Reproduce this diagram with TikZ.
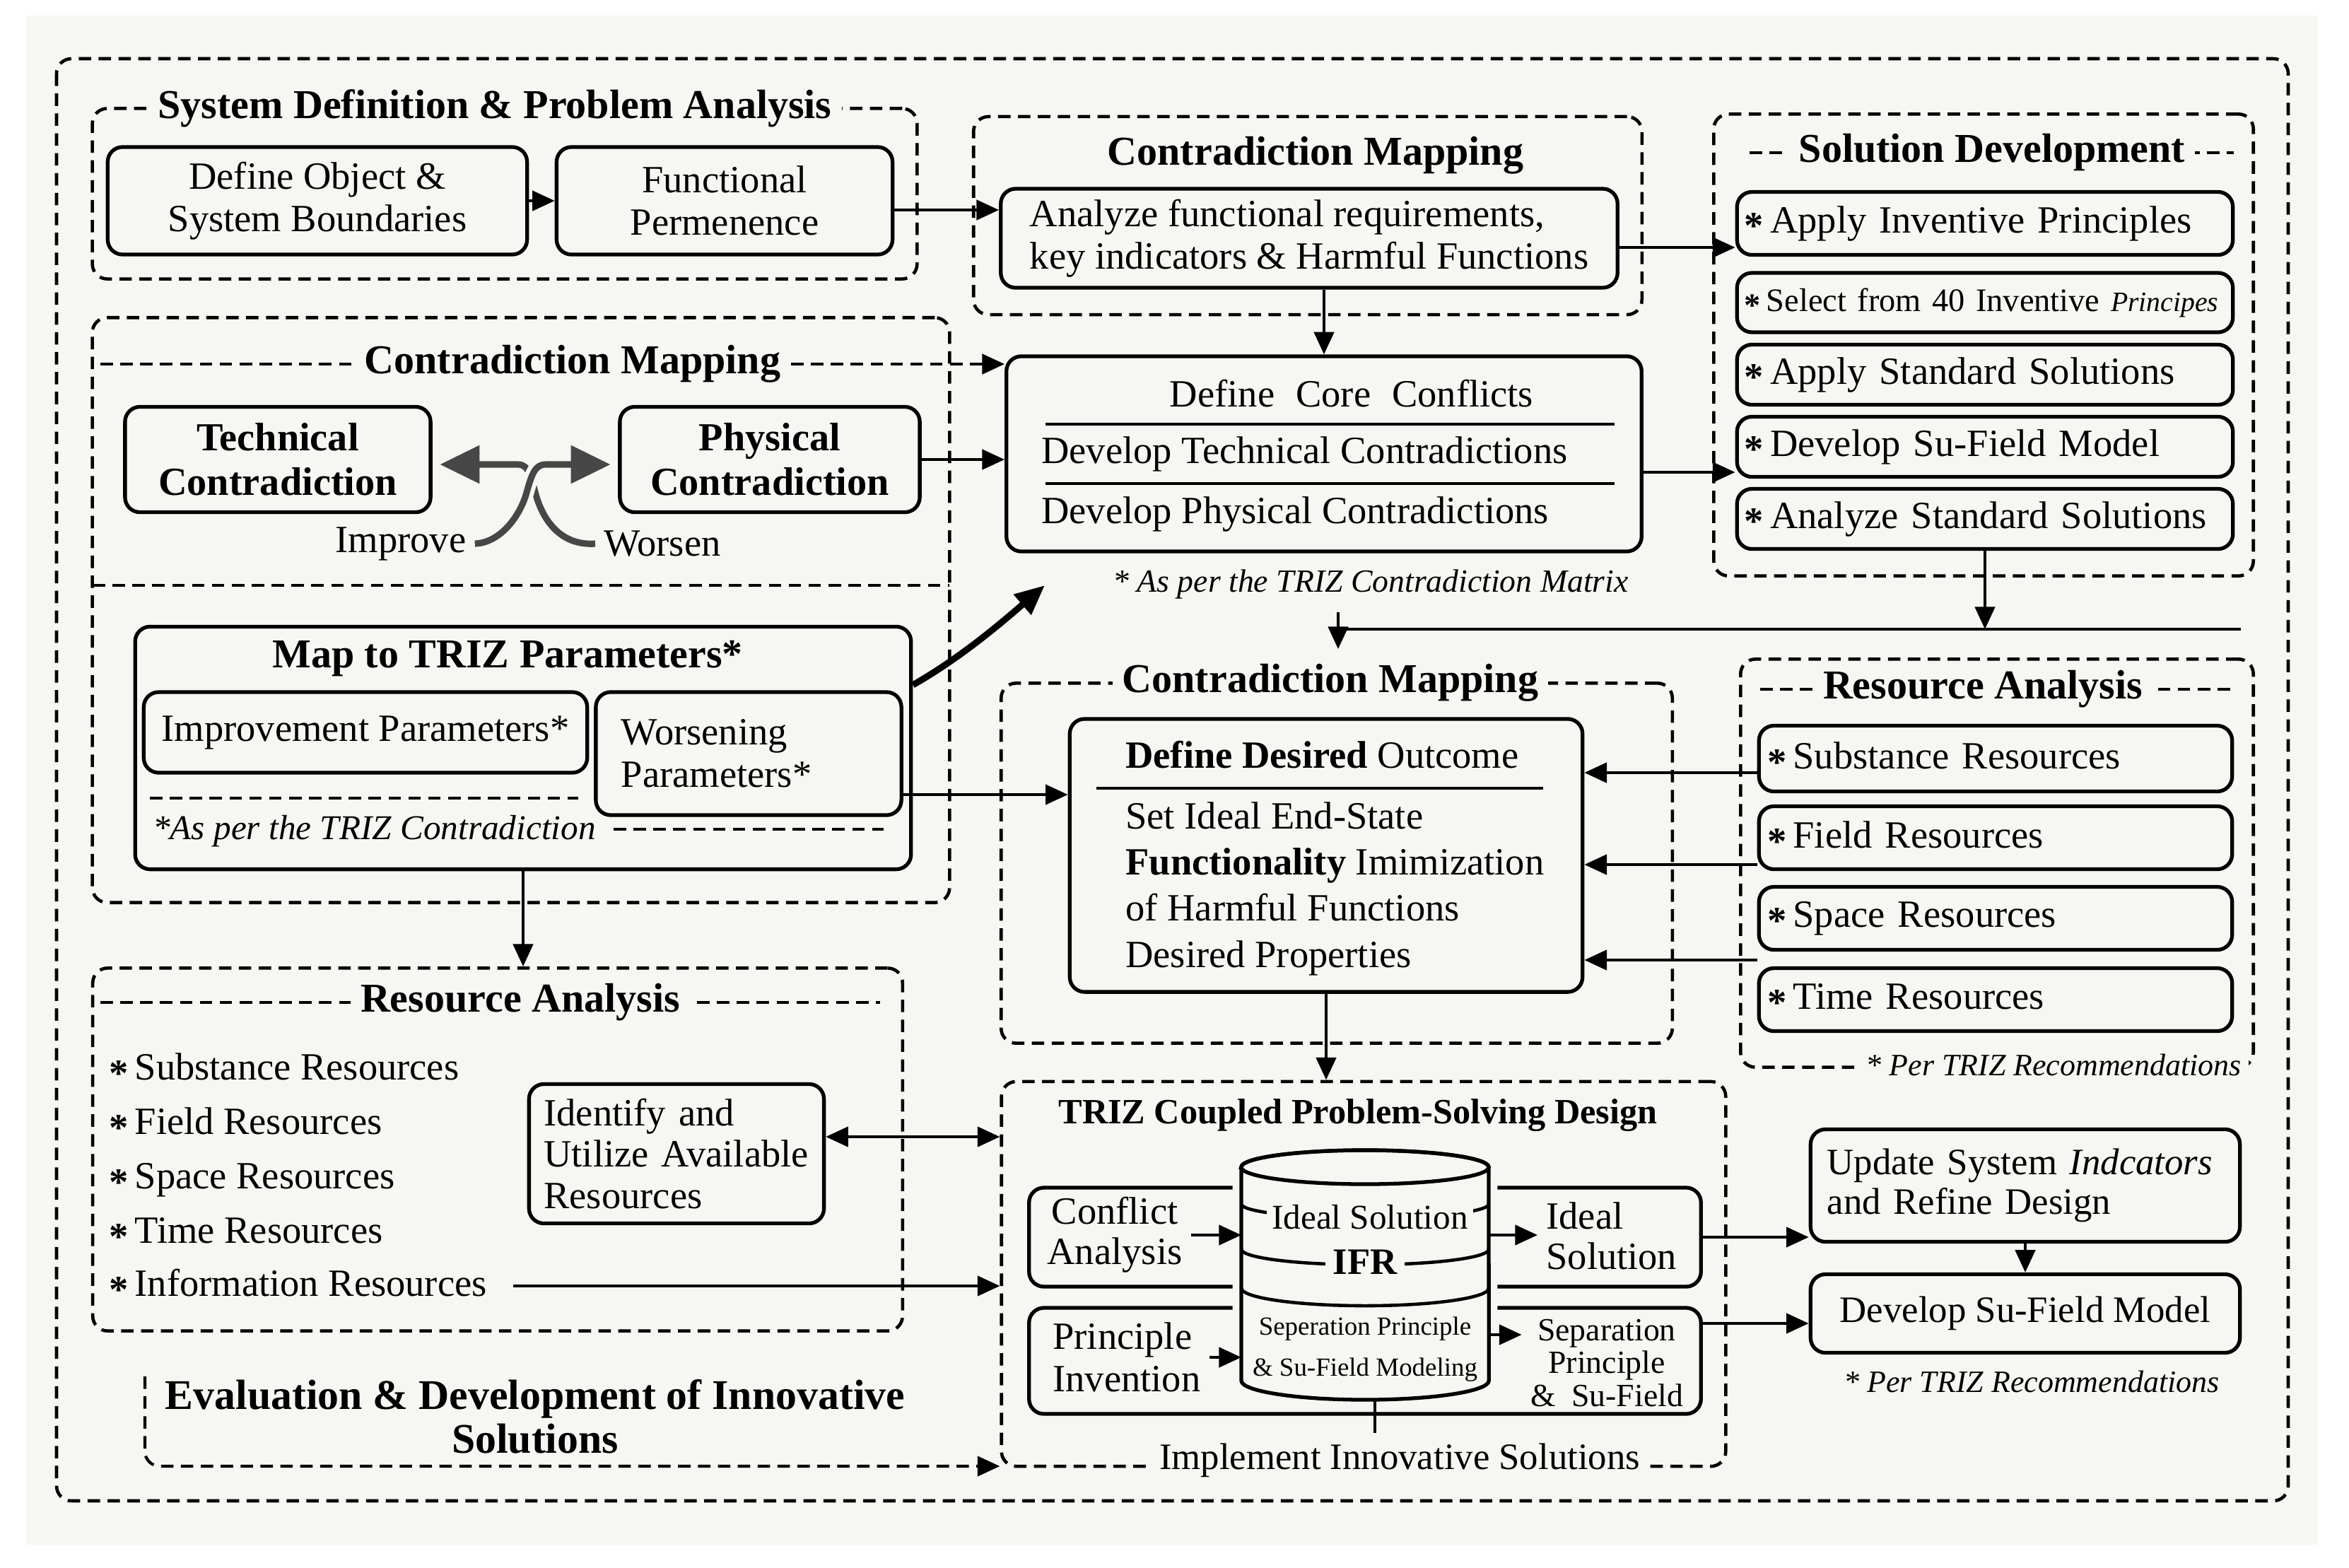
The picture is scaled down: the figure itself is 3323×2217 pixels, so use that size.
\documentclass[tikz,border=0pt]{standalone}
\usepackage{fontspec}
\setmainfont{Liberation Serif}
\usetikzlibrary{arrows.meta, positioning, calc}
\definecolor{paper}{HTML}{F6F6F3}
\definecolor{twistGray}{HTML}{474747}
\newcommand{\rstar}{\raisebox{-0.35ex}{\textbf{*}}\,}

\begin{document}
\begin{tikzpicture}[x=0.01cm, y=-0.01cm,
    font=\fontsize{15.5}{17}\selectfont,
    grp/.style={draw, line width=1.3pt, dash pattern=on 5pt off 3pt, rounded corners=6pt},
    grpline/.style={line width=1.3pt, dash pattern=on 5pt off 3pt},
    box/.style={draw, line width=1.5pt, rounded corners=6pt, fill=paper, inner sep=3pt},
    ttl/.style={font=\fontsize{16.5}{19}\selectfont\bfseries, fill=paper, inner sep=4pt},
    note/.style={font=\fontsize{13}{15}\selectfont\itshape, fill=paper, inner sep=3pt},
    arr/.style={-{Triangle[length=9pt, width=8pt]}, line width=1.2pt},
    dblarr/.style={{Triangle[length=9pt, width=8pt]}-{Triangle[length=9pt, width=8pt]}, line width=1.2pt},
    bigarr/.style={-{Triangle[length=0.42cm, width=0.36cm]}, line width=2.6pt},
    twist/.style={draw=twistGray, line width=2.6pt},
    solitem/.style={box, minimum width=6.99cm, text width=6.8cm, align=left},
    resitem/.style={box, minimum width=6.69cm, text width=6.45cm, align=left},
  ]
  \useasboundingbox (0,0) rectangle (3323,2217);
  \fill[white] (0,0) rectangle (3323,2217);
  \fill[paper] (37,22) rectangle (3279,2185);
  \draw[grp] (80,83) rectangle (3237,2123);

  \node[grp, minimum width=11.66cm, minimum height=2.41cm] (sysdef) at (714,274) {};
  \node[ttl] (sysdefT) at (700,153) {System Definition \& Problem Analysis};
  \node[box, minimum width=5.93cm, minimum height=1.52cm, align=center] (defobj) at (449,284) {Define Object \&\\System Boundaries};
  \node[box, minimum width=4.75cm, minimum height=1.52cm, align=center] (funcperm) at (1025,284) {Functional\\Permenence};

  \node[grp, minimum width=9.45cm, minimum height=2.80cm] (cmtop) at (1850,305) {};
  \node[ttl] (cmtopT) at (1861,220) {Contradiction Mapping};
  \node[box, minimum width=8.72cm, minimum height=1.40cm, align=left] (analyze) at (1852,337) {Analyze functional requirements,\\key indicators \& Harmful Functions};

  \node[grp, minimum width=7.63cm, minimum height=6.53cm] (soldev) at (2806,488) {};
  \draw[grpline] (2475,216) -- (3160,216);
  \node[ttl] (soldevT) at (2818,216) {Solution Development};
  \node[solitem, minimum height=0.89cm] (sol1) at (2808,316) {\rstar Apply Inventive Principles};
  \node[solitem, minimum height=0.84cm, font=\fontsize{13.2}{15}\selectfont] (sol2) at (2808,428) {\rstar Select from 40 Inventive \textit{\fontsize{11.3}{13}\selectfont Principes}};
  \node[solitem, minimum height=0.85cm] (sol3) at (2808,530) {\rstar Apply Standard Solutions};
  \node[solitem, minimum height=0.85cm] (sol4) at (2808,632) {\rstar Develop Su-Field Model};
  \node[solitem, minimum height=0.85cm] (sol5) at (2808,734) {\rstar Analyze Standard Solutions};

  \node[grp, minimum width=12.12cm, minimum height=8.27cm] (cmleft) at (737,863) {};
  \node[ttl, fill=none] (cmleftT) at (810,515) {Contradiction Mapping};
  \draw[grpline] (131,828) -- (1343,828);
  \node[box, font=\fontsize{16}{18}\selectfont\bfseries, minimum width=4.32cm, minimum height=1.49cm, align=center] (techc) at (393,650) {Technical\\Contradiction};
  \node[box, font=\fontsize{16}{18}\selectfont\bfseries, minimum width=4.24cm, minimum height=1.49cm, align=center] (physc) at (1089,650) {Physical\\Contradiction};
  \node (improveL) at (567,769) {Improve};
  \node (worsenL) at (937,769) {Worsen};
  \node[box, minimum width=10.97cm, minimum height=3.43cm] (maptriz) at (740,1058) {};
  \node[font=\fontsize{16.5}{19}\selectfont\bfseries] (maptrizT) at (718,932) {Map to TRIZ Parameters*};
  \node[box, minimum width=6.27cm, minimum height=1.14cm] (impr) at (517,1036) {Improvement Parameters*};
  \node[box, minimum width=4.32cm, minimum height=1.74cm, text width=3.6cm, align=left] (worse) at (1059,1066) {Worsening\\Parameters*};
  \draw[grpline] (212,1129) -- (818,1129);
  \node[note, font=\fontsize{14}{16}\selectfont\itshape, anchor=west, fill=none] (maptrizN) at (205,1176) {*As per the TRIZ Contradiction};
  \draw[grpline] (868,1173) -- (1250,1173);

  \node[box, minimum width=8.98cm, minimum height=2.76cm] (core) at (1873,642) {};
  \node (coreA) at (1912,557) {Define\hspace{0.3em} Core\hspace{0.3em} Conflicts};
  \draw[line width=1.3pt] (1479,600) -- (2284,600);
  \node[anchor=west] (coreB) at (1461,642) {Develop Technical Contradictions};
  \draw[line width=1.3pt] (1479,684) -- (2284,684);
  \node[anchor=west] (coreC) at (1461,727) {Develop Physical Contradictions};
  \node[note] (coreN) at (1939,826) {* As per the TRIZ Contradiction Matrix};

  \node[grp, minimum width=9.49cm, minimum height=5.09cm] (cmmid) at (1891,1221) {};
  \node[ttl] (cmmidT) at (1882,966) {Contradiction Mapping};
  \node[box, minimum width=7.25cm, minimum height=3.86cm] (desired) at (1876,1210) {};
  \node[anchor=west] (desA) at (1580,1068) {\textbf{Define Desired} Outcome};
  \draw[line width=1.3pt] (1551,1115) -- (2183,1115);
  \node[anchor=west, align=left, font=\fontsize{15.5}{18.6}\selectfont] (desB) at (1580,1257) {Set Ideal End-State\\\textbf{Functionality} Imimization\\of Harmful Functions\\Desired Properties};

  \node[grp, minimum width=7.25cm, minimum height=5.77cm] (resright) at (2825,1221) {};
  \draw[grpline] (2490,975) -- (3165,975);
  \node[ttl] (resrightT) at (2805,975) {Resource Analysis};
  \node[resitem, minimum height=0.93cm] (rsub) at (2823,1073) {\rstar Substance Resources};
  \node[resitem, minimum height=0.89cm] (rfield) at (2823,1185) {\rstar Field Resources};
  \node[resitem, minimum height=0.89cm] (rspace) at (2823,1299) {\rstar Space Resources};
  \node[resitem, minimum height=0.89cm] (rtime) at (2823,1414) {\rstar Time Resources};
  \node[note, font=\fontsize{12.5}{14}\selectfont\itshape, anchor=east] (resrightN) at (3182,1506) {* Per TRIZ Recommendations};

  \node[grp, minimum width=11.45cm, minimum height=5.13cm] (resleft) at (704,1626) {};
  \draw[grpline] (142,1418) -- (1245,1418);
  \node[ttl] (resleftT) at (736,1418) {Resource Analysis};
  \node[anchor=west] (lsub) at (142,1513) {\rstar Substance Resources};
  \node[anchor=west] (lfield) at (142,1590) {\rstar Field Resources};
  \node[anchor=west] (lspace) at (142,1669) {\rstar Space Resources};
  \node[anchor=west] (ltime) at (142,1745) {\rstar Time Resources};
  \node[anchor=west] (linfo) at (142,1819) {\rstar Information Resources};
  \node[box, minimum width=4.17cm, minimum height=1.97cm, text width=3.75cm, align=left, font=\fontsize{15.5}{16.7}\selectfont] (ident) at (957,1632) {Identify and\\Utilize Available\\Resources};

  \node[font=\fontsize{17}{17.5}\selectfont\bfseries, align=center] (evalT) at (757,2004) {Evaluation \& Development of Innovative\\Solutions};
  \coordinate (evalTop) at (205,1947);

  \node[grp, minimum width=10.24cm, minimum height=5.44cm] (triz) at (1929,1802) {};
  \node[font=\fontsize{14.3}{16}\selectfont\bfseries] (trizT) at (1921,1578) {TRIZ Coupled Problem-Solving Design};
  \node[fill=paper, font=\fontsize{15}{17}\selectfont, inner sep=4pt] (implT) at (1980,2066) {Implement Innovative Solutions};
  \node[box, minimum width=9.50cm, minimum height=1.40cm] (conf) at (1931,1750) {};
  \node[box, minimum width=9.50cm, minimum height=1.50cm] (princ) at (1931,1925) {};
  \filldraw[fill=paper, line width=1.5pt, preaction={draw=paper, line width=7pt}] (1756,1651) -- (1756,1953) arc[start angle=180, end angle=360, x radius=1.75cm, y radius=0.27cm] -- (2106,1651) arc[start angle=0, end angle=180, x radius=1.75cm, y radius=0.24cm] -- cycle;
  \draw[line width=1.5pt] (1931,1651) ellipse [x radius=1.75cm, y radius=0.24cm];
  \draw[line width=1.3pt] (1756,1703) arc[start angle=180, end angle=360, x radius=1.75cm, y radius=0.2cm];
  \draw[line width=1.3pt] (1756,1767) arc[start angle=180, end angle=360, x radius=1.75cm, y radius=0.22cm];
  \draw[line width=1.3pt] (1756,1822) arc[start angle=180, end angle=360, x radius=1.75cm, y radius=0.25cm];
  \node[fill=paper, inner sep=2pt, font=\fontsize{14}{16}\selectfont] (cylA) at (1938,1722) {Ideal Solution};
  \node[fill=paper, inner sep=3pt, font=\fontsize{15}{17}\selectfont\bfseries] (cylB) at (1931,1785) {IFR};
  \node[font=\fontsize{10.5}{12}\selectfont] (cylC) at (1931,1880) {Seperation Principle};
  \node[font=\fontsize{10.5}{12}\selectfont] (cylD) at (1931,1938) {\& Su-Field Modeling};
  \coordinate (cylW) at (1756,1800);
  \coordinate (cylE) at (2106,1800);
  \coordinate (cylS) at (1945,1980);
  \node[align=center, font=\fontsize{15.5}{16.3}\selectfont] (confL) at (1577,1747) {Conflict\\Analysis};
  \node[anchor=west, align=left, font=\fontsize{15.5}{16.3}\selectfont] (idealR) at (2175,1748) {Ideal\\Solution};
  \node[anchor=west, align=left, font=\fontsize{15.5}{17}\selectfont] (princL) at (1477,1920) {Principle\\Invention};
  \node[align=center, font=\fontsize{13}{13.2}\selectfont] (sepR) at (2273,1928) {Separation\\Principle\\\&\ \ Su-Field};

  \node[box, minimum width=6.07cm, minimum height=1.59cm, text width=5.6cm, align=left, font=\fontsize{15}{15.8}\selectfont] (update) at (2865,1677) {Update System \textit{Indcators}\\and Refine Design};
  \node[box, minimum width=6.07cm, minimum height=1.11cm, font=\fontsize{15}{17}\selectfont] (sufield) at (2865,1858) {Develop Su-Field Model};
  \node[note, font=\fontsize{12.5}{14}\selectfont\itshape] (sufieldN) at (2874,1954) {* Per TRIZ Recommendations};

  \draw[arr] (defobj.east) -- (funcperm.west);
  \draw[arr] (funcperm.east |- 0,297) -- (analyze.west |- 0,297);
  \draw[arr] (core.north |- analyze.south) -- (core.north);
  \draw[arr] (analyze.east |- 0,350) -- (sol1.west |- 0,350);
  \draw[arr] (core.east |- 0,668) -- (sol4.west |- 0,668);
  \draw[grpline] (142,515) -- (cmleftT.west);
  \draw[grpline, arr] (cmleftT.east) -- (cmleftT.east -| core.west);
  \draw[arr] (physc.east) -- (physc.east -| core.west);
  \draw[twist, {Triangle[length=0.56cm, width=0.52cm]}-, shorten <=3pt] (techc.east |- 0,657) -- (733,657) .. controls (750,657) and (752,680) .. (759,703) .. controls (772,745) and (800,772) .. (worsenL.west);
  \draw[twist, -{Triangle[length=0.56cm, width=0.52cm]}, shorten >=3pt, preaction={draw=paper, line width=6pt, -}] (improveL.east) .. controls (705,768) and (733,735) .. (744,700) .. controls (752,672) and (756,657) .. (772,657) -- (physc.west |- 0,657);
  \coordinate (mapTip) at (1478,828);
  \draw[bigarr] ([yshift=-0.85cm]maptriz.north east) .. controls (1360,930) and (1420,878) .. (mapTip);
  \draw[arr] (worse.east |- 0,1124) -- (desired.west |- 0,1124);
  \draw[arr] (maptriz.south) -- (maptriz.south |- resleft.north);
  \draw[arr] (sol5.south) -- (sol5.south |- 0,890);
  \coordinate (loopR) at (3170,890);
  \coordinate (loopL) at (1900,890);
  \draw[line width=1.3pt] (loopR) -- (loopL);
  \coordinate (loopTop) at (1893,866);
  \draw[arr] (loopTop) -- (loopTop |- 0,918);
  \draw[arr] (desired.south) -- (desired.south |- triz.north);
  \draw[arr] (rsub.west |- 0,1093) -- (desired.east |- 0,1093);
  \draw[arr] (rfield.west |- 0,1223) -- (desired.east |- 0,1223);
  \draw[arr] (rtime.west |- 0,1358) -- (desired.east |- 0,1358);
  \draw[dblarr] (ident.east |- 0,1608) -- (triz.west |- 0,1608);
  \draw[arr, shorten <=0.25cm] (linfo.east) -- (linfo.east -| triz.west);
  \draw[grpline, arr, rounded corners=6pt] (evalTop) -- (evalTop |- 0,2074) -- (triz.west |- 0,2074);
  \draw[arr] (confL.east) -- (confL.east -| cylW);
  \draw[arr] (cylE |- confL) -- (idealR.west |- confL);
  \draw[arr] (princL.east |- 0,1920) -- (cylW |- 0,1920);
  \draw[arr] (cylE |- 0,1888) -- (sepR.west |- 0,1888);
  \draw[line width=1.3pt] (cylS) -- (cylS |- implT.north);
  \draw[arr] (conf.east) -- (conf.east -| update.west);
  \draw[arr] (princ.east |- 0,1872) -- (sufield.west |- 0,1872);
  \draw[arr] (update.south) -- (sufield.north);
\end{tikzpicture}
\end{document}
